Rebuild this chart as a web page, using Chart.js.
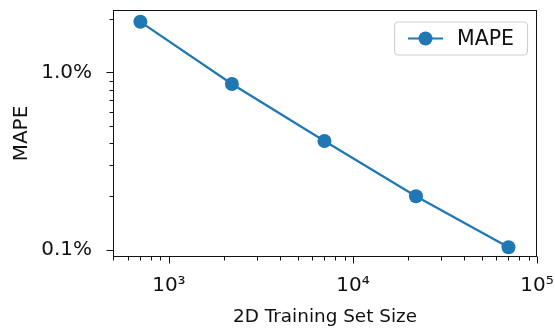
<!DOCTYPE html>
<html>
<head>
<meta charset="utf-8">
<script src="https://cdn.jsdelivr.net/npm/chart.js@4.4.0/dist/chart.umd.min.js"></script>
<style>
  html, body { margin: 0; padding: 0; background: #fff; }
  #wrap { width: 555px; height: 331px; }
</style>
</head>
<body>
<div id="wrap"><canvas id="chart" width="555" height="331"></canvas></div>
<script>
// Error vs. number of 2D training samples (log-log)
const trainSetSizes = [700, 2200, 7000, 22000, 70000];
const mapePercent = [1.93, 0.86, 0.41, 0.20, 0.103];
const seriesLabel = 'MAPE';

const xMajorTicks = [1e3, 1e4, 1e5];
const xMajorLabels = ['10³', '10⁴', '10⁵'];
const xMinorTicks = [500, 600, 700, 800, 900,
                     2000, 3000, 4000, 5000, 6000, 7000, 8000, 9000,
                     20000, 30000, 40000, 50000, 60000, 70000, 80000, 90000];
const yMajorTicks = [0.1, 1];
const yMajorLabels = ['0.1%', '1.0%'];
const yMinorTicks = [0.2, 0.3, 0.4, 0.5, 0.6, 0.7, 0.8, 0.9, 2];

const BLUE = '#1f77b4';
const INK = '#111111';
const FONT = "'DejaVu Sans', sans-serif";

function noScalePadding(scale) {
  scale.paddingLeft = 0; scale.paddingRight = 0;
  scale.paddingTop = 0; scale.paddingBottom = 0;
}

// Box frame, outward tick marks (long for decades, short in between) and legend
const frameAndTicks = {
  id: 'frameAndTicks',
  afterDraw(chart) {
    const ctx = chart.ctx;
    const a = chart.chartArea;
    const xs = chart.scales.x, ys = chart.scales.y;
    ctx.save();
    ctx.strokeStyle = INK;
    ctx.lineWidth = 1;
    ctx.strokeRect(Math.round(a.left) + 0.5, Math.round(a.top) + 0.5,
                   Math.round(a.right - a.left) - 1, Math.round(a.bottom - a.top) - 1);
    const bottom = Math.round(a.bottom) - 0.5;
    const left = Math.round(a.left) + 0.5;
    ctx.beginPath();
    xMajorTicks.forEach(v => { const p = Math.round(xs.getPixelForValue(v)) + 0.5; ctx.moveTo(p, bottom); ctx.lineTo(p, bottom + 7); });
    xMinorTicks.forEach(v => { const p = Math.round(xs.getPixelForValue(v)) + 0.5; ctx.moveTo(p, bottom); ctx.lineTo(p, bottom + 4); });
    yMajorTicks.forEach(v => { const p = Math.round(ys.getPixelForValue(v)) + 0.5; ctx.moveTo(left, p); ctx.lineTo(left - 7, p); });
    yMinorTicks.forEach(v => { const p = Math.round(ys.getPixelForValue(v)) + 0.5; ctx.moveTo(left, p); ctx.lineTo(left - 4, p); });
    ctx.stroke();

    // legend box in the upper right corner
    const bx = 394, by = 21.5, bw = 133, bh = 33, r = 4;
    ctx.beginPath();
    ctx.roundRect(bx + 0.5, by + 0.5, bw, bh, r);
    ctx.fillStyle = 'rgba(255,255,255,0.85)';
    ctx.fill();
    ctx.strokeStyle = '#cfcfcf';
    ctx.lineWidth = 1.2;
    ctx.stroke();
    const ly = by + bh / 2 + 0.5;
    ctx.strokeStyle = BLUE;
    ctx.lineWidth = 2.2;
    ctx.beginPath();
    ctx.moveTo(408, ly); ctx.lineTo(443, ly);
    ctx.stroke();
    ctx.fillStyle = BLUE;
    ctx.beginPath();
    ctx.arc(425.5, ly, 7, 0, Math.PI * 2);
    ctx.fill();
    ctx.fillStyle = INK;
    ctx.font = '20.5px ' + FONT;
    ctx.textBaseline = 'middle';
    ctx.textAlign = 'left';
    ctx.fillText(chart.data.datasets[0].label, 457, ly + 1);
    ctx.restore();
  }
};

new Chart(document.getElementById('chart'), {
  type: 'line',
  data: {
    datasets: [{
      label: seriesLabel,
      data: trainSetSizes.map((x, i) => ({ x, y: mapePercent[i] })),
      borderColor: BLUE,
      backgroundColor: BLUE,
      borderWidth: 2.2,
      pointRadius: 7,
      pointHoverRadius: 7,
      pointBorderWidth: 0,
      pointBackgroundColor: BLUE,
      tension: 0,
      clip: false
    }]
  },
  options: {
    responsive: false,
    animation: false,
    events: [],
    layout: { padding: { left: 0, right: 18, top: 10, bottom: 0 } },
    plugins: { legend: { display: false }, tooltip: { enabled: false } },
    scales: {
      x: {
        type: 'logarithmic',
        position: 'bottom',
        min: 497,
        max: 100000,
        grid: { display: false, drawTicks: false },
        border: { display: false },
        afterBuildTicks(scale) { scale.ticks = xMajorTicks.map(v => ({ value: v, major: true })); },
        afterFit(scale) { scale.height = 74; noScalePadding(scale); },
        ticks: {
          autoSkip: false,
          maxRotation: 0,
          padding: 17,
          color: INK,
          font: { family: FONT, size: 20 },
          callback(value) { const i = xMajorTicks.indexOf(value); return i >= 0 ? xMajorLabels[i] : ''; }
        },
        title: {
          display: true,
          text: '2D Training Set Size',
          color: INK,
          font: { family: FONT, size: 18.4 },
          padding: { top: 0, bottom: 3 }
        }
      },
      y: {
        type: 'logarithmic',
        position: 'left',
        min: 0.0908,
        max: 2.25,
        grid: { display: false, drawTicks: false },
        border: { display: false },
        afterBuildTicks(scale) { scale.ticks = yMajorTicks.map(v => ({ value: v, major: true })); },
        afterFit(scale) { scale.width = 113; noScalePadding(scale); },
        ticks: {
          autoSkip: false,
          padding: 21,
          color: INK,
          font: { family: FONT, size: 20 },
          callback(value) { const i = yMajorTicks.indexOf(value); return i >= 0 ? yMajorLabels[i] : ''; }
        },
        title: {
          display: true,
          text: 'MAPE',
          color: INK,
          font: { family: FONT, size: 20 },
          padding: { top: 10, bottom: 0 }
        }
      }
    }
  },
  plugins: [frameAndTicks]
});
</script>
</body>
</html>
